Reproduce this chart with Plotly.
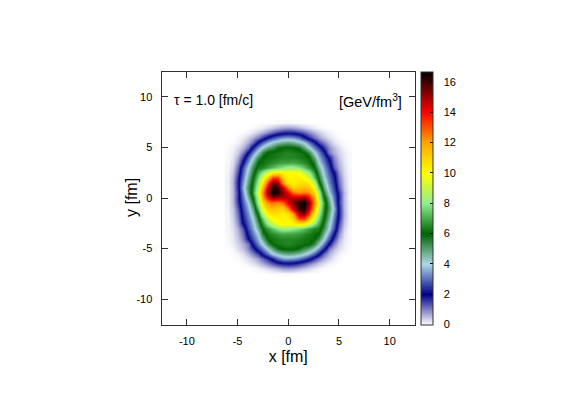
import plotly.graph_objects as go

# grid of the energy density (top row first)
x_fm = [-6, -5.5, -5, -4.5, -4, -3.5, -3, -2.5, -2, -1.5, -1, -0.5, 0, 0.5, 1, 1.5, 2, 2.5, 3, 3.5, 4, 4.5, 5, 5.5, 6]
y_fm = [7.5, 7, 6.5, 6, 5.5, 5, 4.5, 4, 3.5, 3, 2.5, 2, 1.5, 1, 0.5, 0,
        -0.5, -1, -1.5, -2, -2.5, -3, -3.5, -4, -4.5, -5, -5.5, -6, -6.5, -7, -7.5]
energy = [
    [0,0,0,0,0,0,0,0,0,0,.02,.03,.04,.03,.02,0,0,0,0,0,0,0,0,0,0],
    [0,0,0,0,0,.02,.07,.15,.27,.4,.55,.7,.75,.7,.55,.4,.27,.15,.07,.02,0,0,0,0,0],
    [0,0,0,.03,.1,.22,.4,.65,.95,1.3,1.6,1.8,1.85,1.8,1.6,1.3,.95,.65,.4,.22,.1,.03,0,0,0],
    [0,0,.05,.15,.35,.65,1.05,1.6,2.2,2.7,3.1,3.4,3.5,3.4,3,2.3,1.7,1.2,.75,.45,.25,.1,.03,0,0],
    [0,.03,.12,.3,.65,1.2,2.15,3,3.7,4.2,4.55,4.8,4.9,4.75,4.4,4,3.15,2.35,1.5,1,.55,.25,.1,.03,0],
    [.02,.1,.28,.55,1.1,2.25,3.3,4.25,4.9,5.3,5.85,6.1,6.1,6.05,5.8,5,4.1,3.25,2.5,1.6,.9,.5,.25,.08,.02],
    [.04,.15,.4,1,2,3.2,4.35,5.5,6.15,6.2,6.3,6.4,6.5,6.4,6.3,6.15,5.35,4.15,3.2,2.3,1.05,.65,.35,.15,.04],
    [.05,.2,.65,1.6,2.8,4.1,5.3,6.1,6.2,6.3,6.4,6.5,6.5,6.5,6.4,6.3,6.1,4.95,3.65,2.8,1.9,.95,.45,.18,.05],
    [.05,.25,.9,2.1,3.4,4.65,6,6.2,6.4,6.6,6.8,6.9,6.9,7,6.8,6.6,6.3,5.7,4,3.15,2.25,1.1,.55,.2,.05],
    [.07,.35,1.2,2.7,4,5.25,6.3,6.5,6.9,7.3,7.7,8,8.3,8.3,8,7.4,6.8,6.1,4.65,3.5,2.6,1.35,.65,.25,.06],
    [.08,.45,1.45,2.95,4.25,5.6,7,8.2,9.4,10.4,10.6,10.2,10,10.1,9.9,9.2,8.2,6.8,5.15,3.75,2.85,2,.85,.3,.07],
    [.1,.55,1.7,3.15,4.6,6,7.6,9.6,11.4,13.4,13.2,11,10.2,10.2,10.3,10,9.3,7.5,5.65,4,3.1,2.2,1,.35,.08],
    [.1,.6,1.8,3.4,4.85,6.3,8.2,10.6,13.4,15.4,14.9,12,10.6,10.3,10.6,10.7,10.4,9,6.2,4.5,3.3,2.4,1.15,.4,.08],
    [.1,.55,1.8,3.65,5.15,6.5,8.8,11.8,14.6,16.4,16,14.5,12.4,11,11.2,11.5,11.2,10,7.2,4.9,3.6,2.6,1.3,.45,.08],
    [.1,.55,1.6,3.35,4.95,6.7,9.4,12.5,15.2,16.7,16.3,15.3,14.3,12.8,12.3,12.6,12.3,11,8.4,5.6,3.9,2.85,1.6,.55,.1],
    [.08,.55,1.7,3.1,4.55,6.2,8.6,12,14,15.2,14.8,14.8,14.8,14.8,14.8,15.2,14,12,8.6,6.2,4.55,3.1,1.7,.55,.08],
    [.1,.55,1.6,2.85,3.9,5.6,8.4,11,12.3,12.6,12.3,12.8,14.3,15.3,16.3,16.7,15.2,12.5,9.4,6.7,4.95,3.35,1.6,.55,.1],
    [.08,.45,1.3,2.6,3.6,4.9,7.2,10,11.2,11.5,11.2,11,12.4,14.5,16,16.4,14.6,11.8,8.8,6.5,5.15,3.65,1.8,.55,.1],
    [.08,.4,1.15,2.4,3.3,4.5,6.2,9,10.4,10.7,10.6,10.3,10.6,12,14.9,15.4,13.4,10.6,8.2,6.3,4.85,3.4,1.8,.6,.1],
    [.08,.35,1,2.2,3.1,4,5.65,7.5,9.3,10,10.3,10.2,10.2,11,13.2,13.4,11.4,9.6,7.6,6,4.6,3.15,1.7,.55,.1],
    [.07,.3,.85,2,2.85,3.75,5.15,6.8,8.2,9.2,9.9,10.1,10,10.2,10.6,10.4,9.4,8.2,7,5.6,4.25,2.95,1.45,.45,.08],
    [.06,.25,.65,1.35,2.6,3.5,4.65,6.1,6.8,7.4,8,8.3,8.3,8,7.7,7.3,6.9,6.5,6.3,5.25,4,2.7,1.2,.35,.07],
    [.05,.2,.55,1.1,2.25,3.15,4,5.7,6.3,6.6,6.8,7,6.9,6.9,6.8,6.6,6.4,6.2,6,4.65,3.4,2.1,.9,.25,.05],
    [.05,.18,.45,.95,1.9,2.8,3.65,4.95,6.1,6.3,6.4,6.5,6.5,6.5,6.4,6.3,6.2,6.1,5.3,4.1,2.8,1.6,.65,.2,.05],
    [.04,.15,.35,.65,1.05,2.3,3.2,4.15,5.35,6.15,6.3,6.4,6.5,6.4,6.3,6.2,6.15,5.5,4.35,3.2,2,1,.4,.15,.04],
    [.02,.08,.25,.5,.9,1.6,2.5,3.25,4.1,5,5.8,6.05,6.1,6.1,5.85,5.3,4.9,4.25,3.3,2.25,1.1,.55,.28,.1,.02],
    [0,.03,.1,.25,.55,1,1.5,2.35,3.15,4,4.4,4.75,4.9,4.8,4.55,4.2,3.7,3,2.15,1.2,.65,.3,.12,.03,0],
    [0,0,.03,.1,.25,.45,.75,1.2,1.7,2.3,3,3.4,3.5,3.4,3.1,2.7,2.2,1.6,1.05,.65,.35,.15,.05,0,0],
    [0,0,0,.03,.1,.22,.4,.65,.95,1.3,1.6,1.8,1.85,1.8,1.6,1.3,.95,.65,.4,.22,.1,.03,0,0,0],
    [0,0,0,0,0,.02,.07,.15,.27,.4,.55,.7,.75,.7,.55,.4,.27,.15,.07,.02,0,0,0,0,0],
    [0,0,0,0,0,0,0,0,0,0,.02,.03,.04,.03,.02,0,0,0,0,0,0,0,0,0,0],
]

axis_ticks = [-10, -5, 0, 5, 10]
axis_labels = ["-10", "-5", "0", "5", "10"]
bar_ticks = [0, 2, 4, 6, 8, 10, 12, 14, 16]
bar_max = 16.67

palette_levels = [0, 2, 4, 6, 8, 10, 12, 14, 16.67]
palette_colors = ["#ffffff", "#00008b", "#add8e6", "#006400", "#90ee90",
                  "#ffff00", "#ffa500", "#ff0000", "#000000"]
colorscale = [[lev / bar_max, col] for lev, col in zip(palette_levels, palette_colors)]

# the page has a body margin of 8px, so the figure is drawn 8px in
W, H = 559, 386
TOP, BOTTOM = 20, 40
LINE = "#303030"
FONT = "Liberation Sans"


def px_x(px):
    return (px - 8) / W


def px_y(py):
    return 1 - (py - 8 - TOP) / (H - TOP - BOTTOM)


fig = go.Figure()

fig.add_trace(go.Heatmap(
    x=x_fm,
    y=y_fm,
    z=energy,
    zmin=0,
    zmax=bar_max,
    zsmooth="best",
    colorscale=colorscale,
    colorbar=dict(
        x=px_x(421), xanchor="left", xpad=0,
        y=px_y(324.5), yanchor="bottom", ypad=0,
        len=253 / (H - TOP - BOTTOM), thickness=12,
        outlinecolor=LINE, outlinewidth=1,
        tickmode="array", tickvals=bar_ticks,
        ticks="inside", ticklen=3, tickcolor="black",
        showticklabels=False,
    ),
))

# gnuplot ticks the colour bar on both edges, this axis gives the left ones and the labels
fig.add_trace(go.Scatter(x=[None], y=[None], yaxis="y2", showlegend=False, hoverinfo="skip"))

axis_style = dict(
    range=[-12.5, 12.5],
    tickmode="array",
    tickvals=axis_ticks,
    ticktext=axis_labels,
    ticks="inside",
    ticklen=6,
    tickcolor=LINE,
    showgrid=False,
    zeroline=False,
    showline=True,
    linecolor=LINE,
    linewidth=1,
    mirror="ticks",
    ticklabelstandoff=6,
    tickfont=dict(family=FONT, size=11, color="black"),
)

fig.update_layout(
    width=W,
    height=H,
    autosize=False,
    margin=dict(l=0, r=0, t=TOP, b=BOTTOM),
    paper_bgcolor="white",
    plot_bgcolor="white",
    showlegend=False,
    xaxis=dict(domain=[px_x(161.5), px_x(415)],
               title=dict(text="x [fm]", font=dict(family=FONT, size=16, color="black"), standoff=5),
               **axis_style),
    yaxis=dict(domain=[px_y(324.5), px_y(71.5)], **axis_style),
    yaxis2=dict(
        overlaying="y", anchor="free", position=px_x(421.5), side="right",
        domain=[px_y(324.5), px_y(71.5)],
        range=[0, bar_max], tickmode="array", tickvals=bar_ticks,
        ticks="outside", ticklen=3, tickcolor="black",
        ticklabelstandoff=16,
        tickfont=dict(family=FONT, size=11, color="black"),
        showgrid=False, zeroline=False, showline=False,
    ),
    annotations=[
        dict(x=px_x(172), y=px_y(90), xref="paper", yref="paper", xanchor="left",
             text="τ = 1.0 [fm/c]", showarrow=False,
             font=dict(family=FONT, size=14, color="black")),
        dict(x=px_x(404), y=px_y(90), xref="paper", yref="paper", xanchor="right",
             text="[GeV/fm<sup>3</sup>]", showarrow=False,
             font=dict(family=FONT, size=14.5, color="black")),
        dict(x=px_x(131), y=px_y(198), xref="paper", yref="paper", xanchor="center",
             text="y [fm]", textangle=-90, showarrow=False,
             font=dict(family=FONT, size=16, color="black")),
    ],
)

fig.write_html("out.html")
